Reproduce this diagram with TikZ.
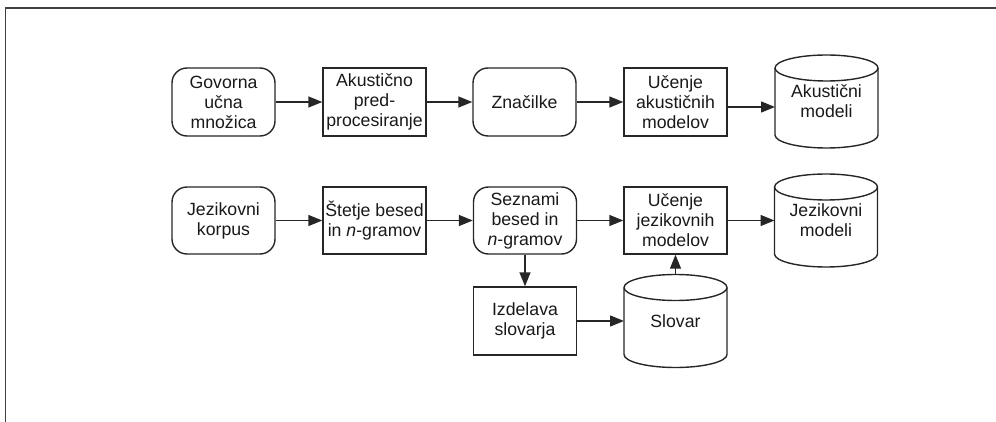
\documentclass[tikz,border=0pt]{standalone}
\usepackage{fontspec}
\setmainfont{Liberation Sans}
\usetikzlibrary{arrows.meta,calc}
\tikzset{
  every node/.style={font=\fontsize{17.7}{20}\selectfont, align=center, text=black!90},
  ln/.style={line width=1.4pt, draw=black!85},
  rbox/.style={ln, draw, rounded corners=15pt, minimum width=103pt, minimum height=68pt, inner sep=1pt},
  sbox/.style={ln, draw, minimum width=103pt, minimum height=68pt, inner sep=1pt},
  cylnode/.style={minimum width=103pt, minimum height=93pt, inner sep=0pt, outer sep=0pt},
  arr/.style={ln, -{Triangle[length=14pt,width=11pt]}},
  frame/.style={line width=1.4pt, draw=black!75}
}
\newcommand\mycyl[4]{%
  \node[cylnode] (#1) at (#2,#3) {#4};
  \draw[ln] ($(#1.north west)+(0,-13)$) arc[start angle=180,end angle=0,x radius=51.5,y radius=13]
     -- ($(#1.south east)+(0,13)$) arc[start angle=0,end angle=-180,x radius=51.5,y radius=13] -- cycle;
  \draw[ln] ($(#1.north west)+(0,-13)$) arc[start angle=180,end angle=360,x radius=51.5,y radius=13];
}
\begin{document}
\begin{tikzpicture}[x=1pt,y=1pt]
\useasboundingbox (0,0) rectangle (996,-422);
% frame
\draw[frame] (996,-8) -- (5.3,-8) -- (5.3,-422);
% row 1
\node[rbox] (gov) at (223.5,-102) {Govorna\\učna\\množica};
\node[sbox] (akp) at (374.5,-102) {Akustično\\pred-\\procesiranje};
\node[rbox] (zna) at (524.5,-102) {Značilke};
\node[sbox] (ua) at (675.5,-102) {Učenje\\akustičnih\\modelov};
\mycyl{am}{826.5}{-101.5}{Akustični\\modeli}
% row 2
\node[rbox, minimum height=67pt] (jk) at (223.5,-220.5) {Jezikovni\\korpus};
\node[sbox, minimum height=67pt] (st) at (374.5,-220.5) {Štetje besed\\in \textit{n}-gramov};
\node[rbox, minimum height=67pt] (sez) at (525,-220.5) {Seznami\\besed in\\\textit{n}-gramov};
\node[sbox, minimum height=67pt] (uj) at (675.5,-220.5) {Učenje\\jezikovnih\\modelov};
\mycyl{jm}{826}{-220.5}{Jezikovni\\modeli}
% row 3
\node[sbox] (izd) at (525,-321) {Izdelava\\slovarja};
\mycyl{slo}{675.5}{-321}{Slovar}
% connectors
\draw[arr] (gov) -- (akp);
\draw[arr] (akp) -- (zna);
\draw[arr] (zna) -- (ua);
\draw[arr] ([yshift=-5pt]ua.east) -- ([yshift=-5pt]ua.east -| am.west);
\draw[arr] (jk) -- (st);
\draw[arr] (st) -- (sez);
\draw[arr] (sez) -- (uj);
\draw[arr] (uj) -- (jm);
\draw[arr] (sez) -- (izd);
\draw[arr] (izd) -- (slo);
\draw[arr] (slo) -- (uj);
\end{tikzpicture}
\end{document}
